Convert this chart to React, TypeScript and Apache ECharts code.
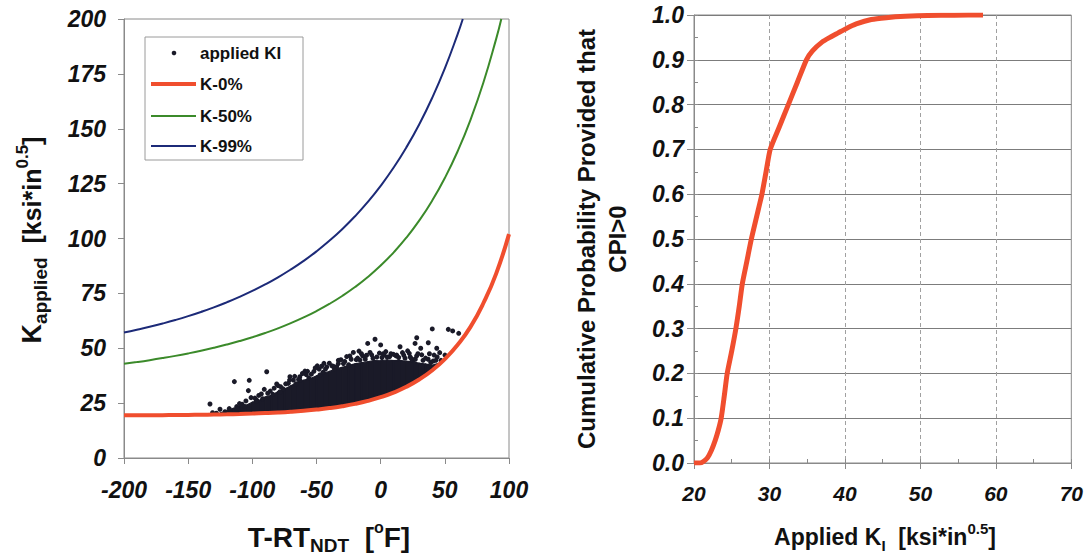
import React, { useEffect, useRef } from "react";
import * as echarts from "echarts";

// ---- Left panel: fracture toughness curves vs T-RT_NDT ----
const dTValues = [-200, -190, -180, -170, -160, -150, -140, -130, -120, -110, -100, -90, -80, -70, -60, -50, -40, -30, -20, -10, 0, 10, 20, 30, 40, 50, 60, 70, 80, 90, 100];
const k0Values = [19.44, 19.47, 19.49, 19.53, 19.58, 19.63, 19.71, 19.80, 19.91, 20.05, 20.23, 20.45, 20.72, 21.07, 21.51, 22.05, 22.73, 23.59, 24.66, 26.00, 27.69, 29.79, 32.43, 35.74, 39.88, 45.08, 51.58, 59.73, 70.5, 84.0, 102.0];

const k50X = [-200, -190, -180, -170, -160, -150, -140, -130, -120, -110, -100, -90, -80, -70, -60, -50, -40, -30, -20, -10, 0, 10, 20, 30, 40, 50, 60, 70, 80, 90, 94];
const k50Values = [42.92, 43.71, 44.57, 45.51, 46.53, 47.65, 48.87, 50.21, 51.67, 53.27, 55.02, 56.95, 59.08, 61.44, 64.05, 66.95, 70.19, 73.81, 77.88, 82.47, 87.67, 93.59, 100.35, 108.13, 117.12, 127.56, 139.75, 154.06, 170.93, 190.94, 200.0];

const k99X = [-200, -190, -180, -170, -160, -150, -140, -130, -120, -110, -100, -90, -80, -70, -60, -50, -40, -30, -20, -10, 0, 10, 20, 30, 40, 50, 60, 64];
const k99Values = [57.13, 58.40, 59.76, 61.25, 62.86, 64.62, 66.54, 68.62, 70.91, 73.39, 76.10, 79.06, 82.31, 85.90, 89.82, 94.14, 98.93, 104.22, 110.11, 116.67, 124.00, 132.22, 141.49, 151.97, 163.90, 177.51, 193.14, 200.0];

// dense core of the applied-KI cloud (lower edge = K-0% curve, upper edge)
const coreX = [-125, -120, -115, -110, -105, -100, -95, -90, -85, -80, -75, -70, -65, -60, -55, -50, -45, -40, -35, -30, -25, -20, -15, -10, -5, 0, 5, 10, 15, 20, 25, 30, 35, 40, 46];
const coreLow = [19.8, 19.9, 20.0, 20.0, 20.1, 20.2, 20.3, 20.4, 20.6, 20.7, 20.9, 21.0, 21.3, 21.5, 21.8, 22.0, 22.4, 22.7, 23.1, 23.6, 24.1, 24.6, 25.3, 26.0, 26.8, 27.7, 28.7, 29.8, 31.0, 32.4, 34.0, 35.7, 37.7, 39.9, 42.9];
const coreHigh = [20.6, 21.3, 22.6, 23.4, 24.0, 25.4, 26.2, 27.8, 28.6, 30.3, 31.4, 32.9, 34.5, 35.4, 36.2, 37.4, 38.6, 39.4, 40.6, 41.3, 42.2, 42.9, 43.4, 43.9, 44.4, 44.3, 44.7, 44.4, 44.5, 44.1, 43.8, 43.2, 42.8, 42.3, 43.3];

// individual applied-KI points around the cloud's fringe
const scatterX = [-133, -131, -128, -125.2, -121.3, -120, -117, -114, -112.2, -112, -108, -105, -103.1, -102.4, -98, -96.6, -95, -92, -90.7, -88.8, -86, -84, -81, -78.4, -78, -76, -72, -70.7, -68, -66, -63, -62.9, -59, -58, -56, -52, -49.4, -48, -47.3, -45, -44.2, -42, -38, -36, -34.3, -33, -33, -28, -26.5, -25, -23, -21.3, -18, -16.9, -16.1, -14, -12, -10.1, -8.3, -7, -4.4, -3, 0, 2, 2.6, 5, 8, 12, 12.5, 15.1, 17, 19, 22.3, 23, 25.4, 26.8, 27, 28.1, 29, 31.2, 33, 37, 37.1, 39, 40.2, 41.6, 43, 43.7, 47, 50.1, 52.7, 56.1, 60.8,
  -118, -110, -106, -101, -97, -93, -88, -83, -80, -74, -71, -67, -64, -61, -57, -54, -51, -46, -43, -40, -37, -31, -29, -24, -19, -15, -11, -6, -1, 1, 4, 7, 10, 14, 18, 21, 24, 28, 32, 35, 38, 41, 44, 46];
const scatterY = [24.6, 20.6, 20.4, 22.2, 21.1, 20.8, 21.5, 34.8, 23.4, 22.5, 24.5, 26.0, 30.7, 35.4, 27.3, 26.4, 28.5, 27.0, 31.3, 39.3, 30.5, 29.0, 33.7, 30.2, 32.5, 31.5, 34.0, 37.0, 35.5, 33.8, 37.0, 35.5, 39.6, 38.0, 36.5, 39.5, 42.0, 40.5, 37.8, 39.0, 43.1, 41.5, 42.0, 40.5, 41.6, 44.5, 43.0, 44.0, 46.2, 42.5, 45.0, 48.1, 45.5, 48.7, 44.6, 46.5, 45.0, 52.2, 48.1, 47.0, 54.1, 46.0, 51.5, 47.5, 46.9, 46.0, 47.5, 46.5, 46.9, 50.7, 48.0, 45.5, 47.7, 46.0, 44.6, 52.2, 45.0, 54.8, 47.5, 50.0, 44.5, 45.0, 52.5, 43.5, 58.8, 46.9, 44.5, 50.0, 44.5, 46.9, 58.6, 57.9, 56.8,
  22.5, 24.8, 23.5, 27.5, 25.8, 29.2, 29.5, 31.8, 33.0, 33.8, 35.5, 37.2, 35.8, 38.5, 39.5, 38.2, 41.0, 41.8, 40.5, 43.2, 41.8, 44.8, 43.0, 46.5, 44.8, 47.5, 46.8, 45.5, 47.8, 45.8, 48.5, 46.2, 47.2, 45.8, 46.8, 48.8, 45.2, 46.5, 47.0, 45.5, 47.5, 44.2, 46.0, 48.0];

// ---- Right panel: cumulative distribution of applied KI ----
const cdfK = [20.0, 20.8, 21.3, 21.8, 22.3, 22.8, 23.2, 23.6, 24.0, 24.4, 25.0, 25.55, 26.0, 26.4, 27.0, 27.6, 28.3, 29.0, 29.55, 30.1, 31.3, 32.5, 33.7, 34.9, 35.7, 37.0, 38.0, 39.1, 40.2, 41.5, 43.5, 45.5, 48.0, 51.0, 54.5, 58.3];
const cdfP = [0.0, 0.0, 0.004, 0.012, 0.028, 0.05, 0.072, 0.1, 0.148, 0.2, 0.25, 0.3, 0.35, 0.4, 0.45, 0.5, 0.55, 0.6, 0.65, 0.7, 0.75, 0.8, 0.85, 0.9, 0.92, 0.94, 0.95, 0.96, 0.97, 0.98, 0.99, 0.994, 0.997, 0.999, 0.9995, 1.0];

const RED = "#f04e2e";
const GREEN = "#3b8a2a";
const BLUE = "#1c2a78";
const DOT = "#1a1a28";
const FONT = "'Liberation Sans', Arial, sans-serif";

const zip = (xs: number[], ys: number[]) => xs.map((x, i) => [x, ys[i]]);

export default function App() {
  const ref = useRef<HTMLDivElement>(null);

  useEffect(() => {
    document.body.style.margin = "0";
    const chart = echarts.init(ref.current!, null, { renderer: "svg" });

    const tickLabelL = { fontFamily: FONT, fontSize: 23, fontWeight: "bold", fontStyle: "italic", color: "#111" };
    const tickLabelRX = { fontFamily: FONT, fontSize: 21, fontWeight: "bold", fontStyle: "italic", color: "#111" };
    const tickLabelRY = { fontFamily: FONT, fontSize: 23, fontWeight: "bold", fontStyle: "italic", color: "#111" };
    const gray = "#8a8a8a";

    const coreData = coreX.map((x, i) => [x, coreLow[i], coreHigh[i]]);

    const option: any = {
      animation: false,
      backgroundColor: "#ffffff",
      grid: [
        { left: 124, top: 19, width: 385, height: 439, show: true, borderColor: gray, borderWidth: 1, backgroundColor: "transparent" },
        { left: 694, top: 15, width: 380, height: 448, show: true, borderColor: gray, borderWidth: 1, backgroundColor: "transparent" },
      ],
      xAxis: [
        {
          gridIndex: 0, type: "value", min: -200, max: 100, interval: 50, position: "bottom",
          axisLine: { onZero: false, lineStyle: { color: gray } },
          axisTick: { length: 6, lineStyle: { color: gray } },
          splitLine: { show: false },
          axisLabel: { ...tickLabelL, margin: 20 },
        },
        {
          gridIndex: 1, type: "value", min: 20, max: 70, interval: 10, position: "bottom",
          axisLine: { onZero: false, lineStyle: { color: gray } },
          axisTick: { length: 6, lineStyle: { color: gray } },
          splitLine: { show: true, lineStyle: { color: "#a0a0a0", type: [4, 3], width: 1 } },
          axisLabel: { ...tickLabelRX, margin: 20 },
        },
        {
          gridIndex: 1, type: "value", min: 20, max: 70, interval: 5, position: "bottom",
          axisLine: { show: false, onZero: false },
          axisTick: { inside: true, length: 4, lineStyle: { color: gray } },
          splitLine: { show: false },
          axisLabel: { show: false },
        },
      ],
      yAxis: [
        {
          gridIndex: 0, type: "value", min: 0, max: 200, interval: 25, position: "left",
          axisLine: { show: true, onZero: false, lineStyle: { color: gray } },
          axisTick: { show: true, length: 6, lineStyle: { color: gray } },
          splitLine: { show: false },
          axisLabel: { ...tickLabelL, margin: 18 },
        },
        {
          gridIndex: 1, type: "value", min: 0, max: 1, interval: 0.1, position: "left",
          axisLine: { show: true, onZero: false, lineStyle: { color: gray } },
          axisTick: { show: true, length: 7, lineStyle: { color: gray } },
          splitLine: { show: true, lineStyle: { color: "#7c7c7c", width: 1 } },
          axisLabel: { ...tickLabelRY, margin: 10, formatter: (v: number) => v.toFixed(1) },
        },
        {
          gridIndex: 1, type: "value", min: 0, max: 1, interval: 0.05, position: "left",
          axisLine: { show: false, onZero: false },
          axisTick: { show: true, inside: true, length: 4, lineStyle: { color: gray } },
          splitLine: { show: false },
          axisLabel: { show: false },
        },
      ],
      series: [
        {
          name: "applied KI core", type: "custom", xAxisIndex: 0, yAxisIndex: 0,
          data: coreData, silent: true, z: 2,
          encode: { x: 0, y: [1, 2] },
          renderItem: (params: any, api: any) => {
            const i = params.dataIndex;
            if (i >= coreData.length - 1) return null;
            const a = coreData[i];
            const b = coreData[i + 1];
            const pts = [
              api.coord([a[0], a[1]]),
              api.coord([b[0], b[1]]),
              api.coord([b[0], b[2]]),
              api.coord([a[0], a[2]]),
            ];
            return {
              type: "polygon",
              shape: { points: pts },
              style: { fill: DOT, stroke: DOT, lineWidth: 1.2 },
            };
          },
        },
        {
          name: "applied KI", type: "scatter", xAxisIndex: 0, yAxisIndex: 0,
          data: zip(scatterX, scatterY), symbol: "circle", symbolSize: 5,
          itemStyle: { color: DOT, opacity: 1 }, z: 3,
        },
        {
          name: "K-0%", type: "line", xAxisIndex: 0, yAxisIndex: 0,
          data: zip(dTValues, k0Values), symbol: "none", smooth: true,
          lineStyle: { color: RED, width: 4 }, z: 4, clip: false,
        },
        {
          name: "K-50%", type: "line", xAxisIndex: 0, yAxisIndex: 0,
          data: zip(k50X, k50Values), symbol: "none", smooth: true,
          lineStyle: { color: GREEN, width: 2 }, z: 4,
        },
        {
          name: "K-99%", type: "line", xAxisIndex: 0, yAxisIndex: 0,
          data: zip(k99X, k99Values), symbol: "none", smooth: true,
          lineStyle: { color: BLUE, width: 2 }, z: 4,
        },
        {
          name: "CDF", type: "line", xAxisIndex: 1, yAxisIndex: 1,
          data: zip(cdfK, cdfP), symbol: "none", smooth: 0.2,
          lineStyle: { color: RED, width: 5 }, z: 4,
        },
      ],
      graphic: [
        // legend box
        { type: "rect", z: 10, shape: { x: 145, y: 37, width: 158, height: 123 }, style: { fill: "#fff", stroke: "#9a9a9a", lineWidth: 1 } },
        { type: "circle", z: 11, shape: { cx: 174, cy: 53, r: 2.3 }, style: { fill: DOT } },
        { type: "text", z: 11, x: 200, y: 53, style: { text: "applied KI", font: `bold 17px ${FONT}`, fill: "#111", verticalAlign: "middle" } },
        { type: "line", z: 11, shape: { x1: 151, y1: 84, x2: 196, y2: 84 }, style: { stroke: RED, lineWidth: 4 } },
        { type: "text", z: 11, x: 200, y: 84, style: { text: "K-0%", font: `bold 17px ${FONT}`, fill: "#111", verticalAlign: "middle" } },
        { type: "line", z: 11, shape: { x1: 151, y1: 116, x2: 196, y2: 116 }, style: { stroke: GREEN, lineWidth: 2 } },
        { type: "text", z: 11, x: 200, y: 116, style: { text: "K-50%", font: `bold 17px ${FONT}`, fill: "#111", verticalAlign: "middle" } },
        { type: "line", z: 11, shape: { x1: 151, y1: 146, x2: 196, y2: 146 }, style: { stroke: BLUE, lineWidth: 2 } },
        { type: "text", z: 11, x: 200, y: 146, style: { text: "K-99%", font: `bold 17px ${FONT}`, fill: "#111", verticalAlign: "middle" } },
        // left y-axis title
        {
          type: "text", x: 32, y: 240, rotation: Math.PI / 2,
          style: {
            text: "{k|K}{sub|applied}{n|  [ksi*in}{sup|0.5}{n|]}",
            align: "center", verticalAlign: "middle", fill: "#111",
            rich: {
              k: { fontFamily: FONT, fontSize: 27, fontWeight: "bold", lineHeight: 36, fill: "#111" },
              sub: { fontFamily: FONT, fontSize: 19, fontWeight: "bold", lineHeight: 24, verticalAlign: "bottom", fill: "#111" },
              n: { fontFamily: FONT, fontSize: 25, fontWeight: "bold", lineHeight: 36, fill: "#111" },
              sup: { fontFamily: FONT, fontSize: 17, fontWeight: "bold", lineHeight: 18, verticalAlign: "top", fill: "#111" },
            },
          },
        },
        // left x-axis title
        {
          type: "text", x: 329, y: 537,
          style: {
            text: "{n|T-RT}{sub|NDT}{n|  [}{sup|o}{n|F]}",
            align: "center", verticalAlign: "middle", fill: "#111",
            rich: {
              n: { fontFamily: FONT, fontSize: 28, fontWeight: "bold", lineHeight: 36, fill: "#111" },
              sub: { fontFamily: FONT, fontSize: 19, fontWeight: "bold", lineHeight: 22, verticalAlign: "bottom", fill: "#111" },
              sup: { fontFamily: FONT, fontSize: 16, fontWeight: "bold", lineHeight: 17, verticalAlign: "top", fill: "#111" },
            },
          },
        },
        // right y-axis title
        {
          type: "text", x: 602, y: 239, rotation: Math.PI / 2,
          style: {
            text: "Cumulative Probability Provided that\nCPI>0",
            align: "center", verticalAlign: "middle", fill: "#111",
            font: `bold 24px ${FONT}`, lineHeight: 31,
          },
        },
        // right x-axis title
        {
          type: "text", x: 885, y: 537,
          style: {
            text: "{n|Applied K}{sub|I}{n|  [ksi*in}{sup|0.5}{n|]}",
            align: "center", verticalAlign: "middle", fill: "#111",
            rich: {
              n: { fontFamily: FONT, fontSize: 23, fontWeight: "bold", lineHeight: 32, fill: "#111" },
              sub: { fontFamily: FONT, fontSize: 15, fontWeight: "bold", lineHeight: 17, verticalAlign: "bottom", fill: "#111" },
              sup: { fontFamily: FONT, fontSize: 15, fontWeight: "bold", lineHeight: 15, verticalAlign: "top", fill: "#111" },
            },
          },
        },
      ],
    };

    chart.setOption(option);
    return () => chart.dispose();
  }, []);

  return <div ref={ref} style={{ width: 1086, height: 558 }} />;
}
